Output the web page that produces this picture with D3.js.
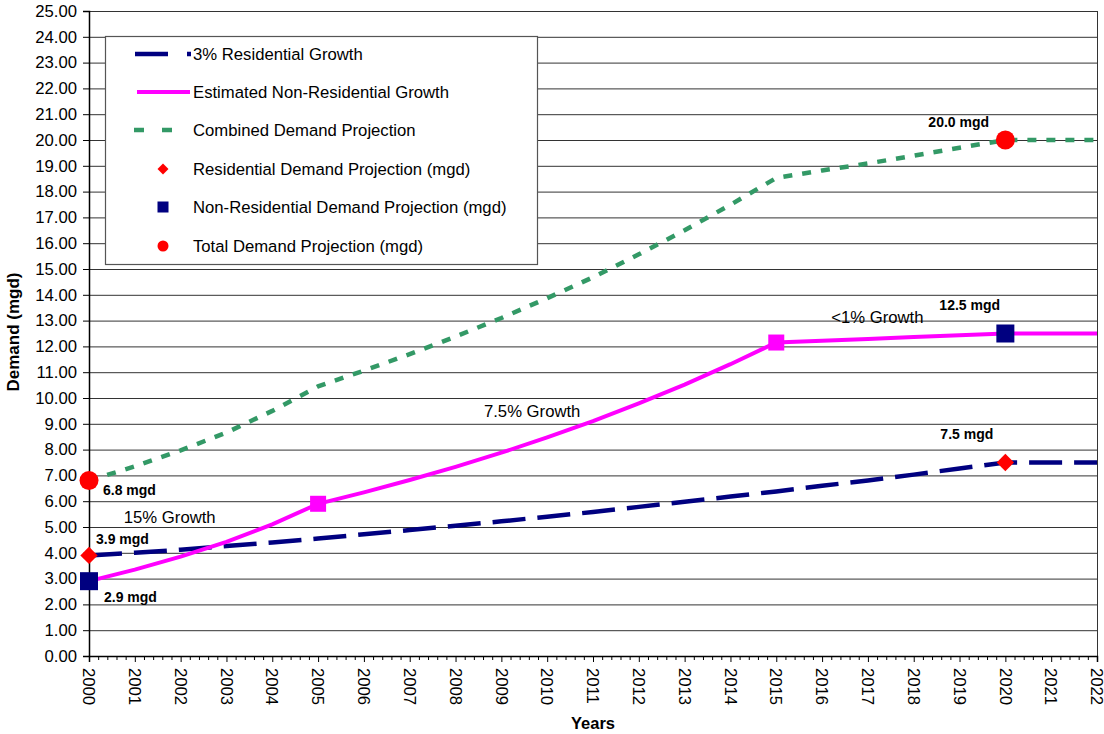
<!DOCTYPE html>
<html><head><meta charset="utf-8">
<script src="https://cdn.jsdelivr.net/npm/d3@7"></script>
<style>body{margin:0;background:#fff} svg{font-family:"Liberation Sans",Arial,sans-serif;display:block}</style>
</head><body><svg id="c" width="1104" height="734"></svg>
<script>
const years=[2000,2001,2002,2003,2004,2005,2006,2007,2008,2009,2010,2011,2012,2013,2014,2015,2016,2017,2018,2019,2020,2021,2022];
const residential=[3.9,4.0,4.12,4.26,4.4,4.55,4.72,4.88,5.05,5.22,5.4,5.58,5.78,5.98,6.18,6.38,6.6,6.8,7.03,7.27,7.5,7.5,7.5];
const nonResidential=[2.9,3.35,3.85,4.42,5.1,5.9,6.34,6.82,7.33,7.88,8.47,9.1,9.79,10.52,11.31,12.15,12.22,12.29,12.36,12.43,12.5,12.5,12.5];
const combined=[6.8,7.35,7.97,8.66,9.5,10.45,11.06,11.7,12.38,13.1,13.87,14.68,15.57,16.5,17.49,18.53,18.82,19.09,19.39,19.7,20.0,20.0,20.0];
const yTicks=[0,1,2,3,4,5,6,7,8,9,10,11,12,13,14,15,16,17,18,19,20,21,22,23,24,25];
const residentialPoints=[{year:2000,value:3.9,label:"3.9 mgd"},{year:2020,value:7.5,label:"7.5 mgd"}];
const nonResidentialPoints=[{year:2000,value:2.9,label:"2.9 mgd"},{year:2020,value:12.5,label:"12.5 mgd"}];
const growthBreakPoints=[{year:2005,value:5.9},{year:2015,value:12.15}];
const totalPoints=[{year:2000,value:6.8,label:"6.8 mgd"},{year:2020,value:20.0,label:"20.0 mgd"}];
const growthLabels=["15% Growth","7.5% Growth","<1% Growth"];
const legendLabels=["3% Residential Growth","Estimated Non-Residential Growth","Combined Demand Projection","Residential Demand Projection (mgd)","Non-Residential Demand Projection (mgd)","Total Demand Projection (mgd)"];

const svg=d3.select("#c");
const L=89,R=1097,T=11,B=656;
const x=d3.scaleLinear().domain([2000,2022]).range([L,R]);
const y=d3.scaleLinear().domain([0,25]).range([B,T]);
const NAVY="#000080",MAG="#ff00ff",GREEN="#339966",RED="#ff0000";
const FS=16.7;

// gridlines
svg.append("g").selectAll("line").data(yTicks.filter(d=>d>0)).join("line")
  .attr("x1",L).attr("x2",R).attr("y1",d=>y(d)+0.5).attr("y2",d=>y(d)+0.5)
  .attr("stroke","#333").attr("stroke-width",1);
// right border
svg.append("line").attr("x1",R+0.5).attr("x2",R+0.5).attr("y1",T).attr("y2",B).attr("stroke","#333");

// y axis
const ya=svg.append("g").attr("transform",`translate(${L},0)`)
  .call(d3.axisLeft(y).tickValues(yTicks).tickFormat(d3.format(".2f")).tickSize(6).tickPadding(6));
ya.select(".domain").attr("stroke","#000").attr("stroke-width",1.5);
ya.selectAll(".tick line").attr("stroke","#000");
ya.selectAll("text").attr("font-size",FS).attr("font-family","Liberation Sans, Arial").attr("fill","#000");

// x axis
const minor=[];
years.forEach((yr,i)=>{ if(i<years.length-1){ for(let k=1;k<5;k++) minor.push(yr+k/5);} });
const xm=svg.append("g").attr("transform",`translate(0,${B})`)
  .call(d3.axisBottom(x).tickValues(minor).tickFormat("").tickSize(4));
xm.select(".domain").remove();
xm.selectAll(".tick line").attr("stroke","#000");
const xa=svg.append("g").attr("transform",`translate(0,${B})`)
  .call(d3.axisBottom(x).tickValues(years).tickFormat(d3.format("d")).tickSize(6).tickPadding(0));
xa.select(".domain").attr("stroke","#000").attr("stroke-width",1.5);
xa.selectAll(".tick line").attr("stroke","#000");
xa.selectAll("text").attr("font-size",FS).attr("font-family","Liberation Sans, Arial").attr("fill","#000")
  .attr("transform","translate(0,12) rotate(90)").attr("text-anchor","start").attr("x",0).attr("y",0).attr("dy","0.38em");

// axis titles
svg.append("text").attr("x",593).attr("y",729).attr("text-anchor","middle").attr("font-weight","bold").attr("font-size",16.5).text("Years");
svg.append("text").attr("transform","translate(19,332) rotate(-90)").attr("text-anchor","middle").attr("font-weight","bold").attr("font-size",17).text("Demand (mgd)");

// lines
const line=d3.line().x((d,i)=>x(years[i])).y(d=>y(d));
svg.append("path").datum(combined).attr("d",line).attr("fill","none").attr("stroke",GREEN).attr("stroke-width",4.5).attr("stroke-dasharray","9,10");
svg.append("path").datum(residential).attr("d",line).attr("fill","none").attr("stroke",NAVY).attr("stroke-width",4.5).attr("stroke-dasharray","33,12");
svg.append("path").datum(nonResidential).attr("d",line).attr("fill","none").attr("stroke",MAG).attr("stroke-width",4);

// markers
svg.append("g").selectAll("rect").data(growthBreakPoints).join("rect")
  .attr("x",d=>x(d.year)-8).attr("y",d=>y(d.value)-8).attr("width",16).attr("height",16).attr("fill",MAG);
svg.append("g").selectAll("path").data(residentialPoints).join("path")
  .attr("d",d3.symbol(d3.symbolSquare,150)).attr("transform",d=>`translate(${x(d.year)},${y(d.value)}) rotate(45)`).attr("fill",RED);
svg.append("g").selectAll("rect").data(nonResidentialPoints).join("rect")
  .attr("x",d=>x(d.year)-9).attr("y",d=>y(d.value)-9).attr("width",18).attr("height",18).attr("fill",NAVY);
svg.append("g").selectAll("circle").data(totalPoints).join("circle")
  .attr("cx",d=>x(d.year)).attr("cy",d=>y(d.value)).attr("r",9.5).attr("fill",RED);

// value labels
const lab=svg.append("g").attr("font-weight","bold").attr("font-size",14).attr("fill","#000");
const off={"6.8 mgd":[14,14],"20.0 mgd":[-77,-13],"3.9 mgd":[7,-11],"7.5 mgd":[-65,-24],"2.9 mgd":[15,21],"12.5 mgd":[-66,-24]};
[...totalPoints,...residentialPoints,...nonResidentialPoints].forEach(d=>{
  lab.append("text").attr("x",x(d.year)+off[d.label][0]).attr("y",y(d.value)+off[d.label][1]).text(d.label);
});
// growth labels
const gpos=[[2000.76,5.15],[2008.62,9.25],[2016.2,12.9]];
growthLabels.forEach((t,i)=>{
  svg.append("text").attr("x",x(gpos[i][0])).attr("y",y(gpos[i][1])).attr("font-size",FS).text(t);
});

// legend
const lg=svg.append("g");
lg.append("rect").attr("x",105.5).attr("y",36.5).attr("width",432).attr("height",228).attr("fill","#fff").attr("stroke","#555").attr("stroke-width",1.2);
const rows=[54,92,130,169,207,246];
legendLabels.forEach((t,i)=>{
  lg.append("text").attr("x",193).attr("y",rows[i]).attr("dy","0.35em").attr("font-size",FS).text(t);
});
lg.append("line").attr("x1",135).attr("x2",191).attr("y1",rows[0]).attr("y2",rows[0]).attr("stroke",NAVY).attr("stroke-width",4.5).attr("stroke-dasharray","33,19");
lg.append("line").attr("x1",137).attr("x2",190).attr("y1",rows[1]).attr("y2",rows[1]).attr("stroke",MAG).attr("stroke-width",4);
lg.append("line").attr("x1",134).attr("x2",173).attr("y1",rows[2]).attr("y2",rows[2]).attr("stroke",GREEN).attr("stroke-width",4.5).attr("stroke-dasharray","10,18");
lg.append("path").attr("d",d3.symbol(d3.symbolSquare,60)).attr("transform",`translate(163,${rows[3]}) rotate(45)`).attr("fill",RED);
lg.append("rect").attr("x",157.5).attr("y",rows[4]-5.5).attr("width",11).attr("height",11).attr("fill",NAVY);
lg.append("circle").attr("cx",163).attr("cy",rows[5]).attr("r",5.5).attr("fill",RED);
</script></body></html>
